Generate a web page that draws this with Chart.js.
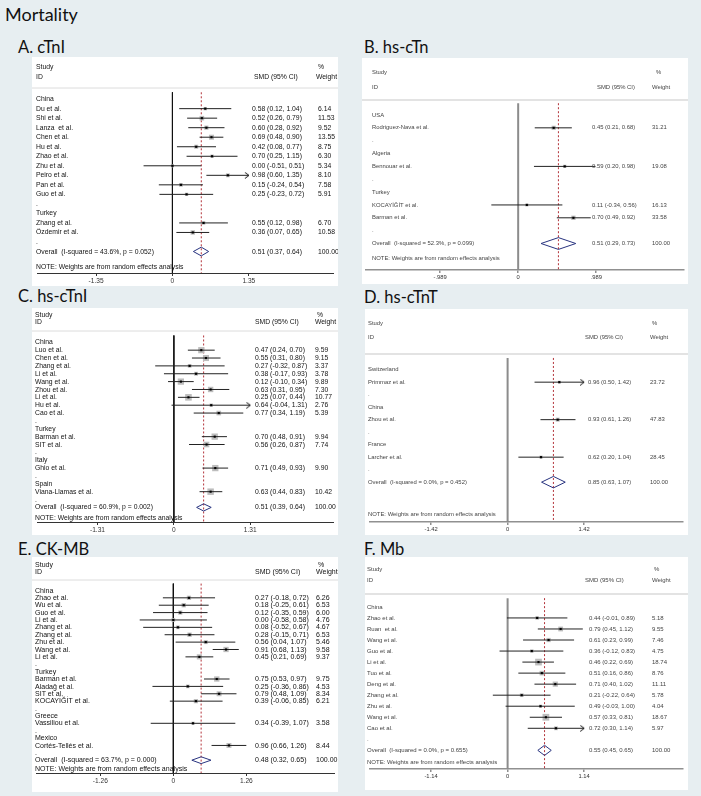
<!DOCTYPE html>
<html>
<head>
<meta charset="utf-8">
<script src="https://cdn.jsdelivr.net/npm/chart.js@4.4.1/dist/chart.umd.min.js"></script>
<style>
  html, body { margin: 0; padding: 0; }
  body { width: 701px; height: 796px; background: #e7eef1; position: relative; overflow: hidden; font-family: Lato, sans-serif; color: #111; }
  .title { position: absolute; left: 5px; top: 5px; font-size: 18px; line-height: 1; }
  .plabel { position: absolute; font-size: 16.5px; line-height: 1; }
  canvas { position: absolute; background: #fff; }
</style>
</head>
<body>
<div class="title">Mortality</div>
<div class="plabel" style="left:18px; top:39px;">A. cTnI</div>
<div class="plabel" style="left:364px; top:39px;">B. hs-cTn</div>
<div class="plabel" style="left:18px; top:288px;">C. hs-cTnI</div>
<div class="plabel" style="left:364px; top:289px;">D. hs-cTnT</div>
<div class="plabel" style="left:18px; top:541px;">E. CK-MB</div>
<div class="plabel" style="left:364px; top:541px;">F. Mb</div>
<canvas id="panel-a"></canvas>
<canvas id="panel-b"></canvas>
<canvas id="panel-c"></canvas>
<canvas id="panel-d"></canvas>
<canvas id="panel-e"></canvas>
<canvas id="panel-f"></canvas>
<script>
// ---------- A. cTnI
const aNames = ['China', 'Du et al.', 'Shi et al.', 'Lanza  et al.', 'Chen et al.', 'Hu et al.', 'Zhao et al.', 'Zhu et al.', 'Peiro et al.', 'Pan et al.', 'Guo et al.', '.', 'Turkey', 'Zhang et al.', 'Özdemir et al.', '.'];
const aEst = [null, 0.58, 0.52, 0.60, 0.69, 0.42, 0.70, 0.00, 0.98, 0.15, 0.25, null, null, 0.55, 0.36, null];
const aLow = [null, 0.12, 0.26, 0.28, 0.48, 0.08, 0.25, -0.51, 0.60, -0.24, -0.23, null, null, 0.12, 0.07, null];
const aHigh = [null, 1.04, 0.79, 0.92, 0.90, 0.77, 1.15, 0.51, 1.35, 0.54, 0.72, null, null, 0.98, 0.65, null];
const aWeight = [null, 6.14, 11.53, 9.52, 13.55, 8.75, 6.30, 5.34, 8.10, 7.58, 5.91, null, null, 6.70, 10.58, null];
const aOverall = [0.51, 0.37, 0.64];
const aHetero = ['43.6%', '0.052'];
const aTicks = [-1.35, 0, 1.35];
const aTickLabels = ['-1.35', '0', '1.35'];

// ---------- B. hs-cTn
const bNames = ['USA', 'Rodriguez-Nava et al.', '.', 'Algeria', 'Bennouar et al.', '.', 'Turkey', 'KOCAYİĞİT et al.', 'Barman et al.', '.'];
const bEst = [null, 0.45, null, null, 0.59, null, null, 0.11, 0.70, null];
const bLow = [null, 0.21, null, null, 0.20, null, null, -0.34, 0.49, null];
const bHigh = [null, 0.68, null, null, 0.98, null, null, 0.56, 0.92, null];
const bWeight = [null, 31.21, null, null, 19.08, null, null, 16.13, 33.58, null];
const bOverall = [0.51, 0.29, 0.73];
const bHetero = ['52.3%', '0.099'];
const bTicks = [-0.989, 0, 0.989];
const bTickLabels = ['-.989', '0', '.989'];

// ---------- C. hs-cTnI
const cNames = ['China', 'Luo et al.', 'Chen et al.', 'Zhang et al.', 'Li et al.', 'Wang et al.', 'Zhou et al.', 'Li et al.', 'Hu et al.', 'Cao et al.', '.', 'Turkey', 'Barman et al.', 'SIT et al.', '.', 'Italy', 'Ghio et al.', '.', 'Spain', 'Viana-Llamas et al.', '.'];
const cEst = [null, 0.47, 0.55, 0.27, 0.38, 0.12, 0.63, 0.25, 0.64, 0.77, null, null, 0.70, 0.56, null, null, 0.71, null, null, 0.63, null];
const cLow = [null, 0.24, 0.31, -0.32, -0.17, -0.10, 0.31, 0.07, -0.04, 0.34, null, null, 0.48, 0.26, null, null, 0.49, null, null, 0.44, null];
const cHigh = [null, 0.70, 0.80, 0.87, 0.93, 0.34, 0.95, 0.44, 1.31, 1.19, null, null, 0.91, 0.87, null, null, 0.93, null, null, 0.83, null];
const cWeight = [null, 9.59, 9.15, 3.37, 3.78, 9.89, 7.30, 10.77, 2.76, 5.39, null, null, 9.94, 7.74, null, null, 9.90, null, null, 10.42, null];
const cOverall = [0.51, 0.39, 0.64];
const cHetero = ['60.9%', '0.002'];
const cTicks = [-1.31, 0, 1.31];
const cTickLabels = ['-1.31', '0', '1.31'];

// ---------- D. hs-cTnT
const dNames = ['Switzerland', 'Primmaz et al.', '.', 'China', 'Zhou et al.', '.', 'France', 'Larcher et al.', '.'];
const dEst = [null, 0.96, null, null, 0.93, null, null, 0.62, null];
const dLow = [null, 0.50, null, null, 0.61, null, null, 0.20, null];
const dHigh = [null, 1.42, null, null, 1.26, null, null, 1.04, null];
const dWeight = [null, 23.72, null, null, 47.83, null, null, 28.45, null];
const dOverall = [0.85, 0.63, 1.07];
const dHetero = ['0.0%', '0.452'];
const dTicks = [-1.42, 0, 1.42];
const dTickLabels = ['-1.42', '0', '1.42'];

// ---------- E. CK-MB
const eNames = ['China', 'Zhao et al.', 'Wu et al.', 'Guo et al.', 'Li et al.', 'Zhang et al.', 'Zhang et al.', 'Zhu et al.', 'Wang et al.', 'Li et al.', '.', 'Turkey', 'Barman et al.', 'Aladağ et al.', 'SIT et al.', 'KOCAYİĞİT et al.', '.', 'Greece', 'Vassiliou et al.', '.', 'Mexico', 'Cortés-Tellés et al.', '.'];
const eEst = [null, 0.27, 0.18, 0.12, 0.00, 0.08, 0.28, 0.56, 0.91, 0.45, null, null, 0.75, 0.25, 0.79, 0.39, null, null, 0.34, null, null, 0.96, null];
const eLow = [null, -0.18, -0.25, -0.35, -0.58, -0.52, -0.15, 0.04, 0.68, 0.21, null, null, 0.53, -0.36, 0.48, -0.06, null, null, -0.39, null, null, 0.66, null];
const eHigh = [null, 0.72, 0.61, 0.59, 0.58, 0.67, 0.71, 1.07, 1.13, 0.69, null, null, 0.97, 0.86, 1.09, 0.85, null, null, 1.07, null, null, 1.26, null];
const eWeight = [null, 6.26, 6.53, 6.00, 4.76, 4.67, 6.53, 5.46, 9.58, 9.37, null, null, 9.75, 4.53, 8.34, 6.21, null, null, 3.58, null, null, 8.44, null];
const eOverall = [0.48, 0.32, 0.65];
const eHetero = ['63.7%', '0.000'];
const eTicks = [-1.26, 0, 1.26];
const eTickLabels = ['-1.26', '0', '1.26'];

// ---------- F. Mb
const fNames = ['China', 'Zhao et al.', 'Ruan  et al.', 'Wang et al.', 'Guo et al.', 'Li et al.', 'Tuo et al.', 'Deng et al.', 'Zhang et al.', 'Zhu et al.', 'Wang et al.', 'Cao et al.', '.'];
const fEst = [null, 0.44, 0.79, 0.61, 0.36, 0.46, 0.51, 0.71, 0.21, 0.49, 0.57, 0.72, null];
const fLow = [null, -0.01, 0.45, 0.23, -0.12, 0.22, 0.16, 0.40, -0.22, -0.03, 0.33, 0.30, null];
const fHigh = [null, 0.89, 1.12, 0.99, 0.83, 0.69, 0.86, 1.02, 0.64, 1.00, 0.81, 1.14, null];
const fWeight = [null, 5.18, 9.55, 7.46, 4.75, 18.74, 8.76, 11.11, 5.78, 4.04, 18.67, 5.97, null];
const fOverall = [0.55, 0.45, 0.65];
const fHetero = ['0.0%', '0.655'];
const fTicks = [-1.14, 0, 1.14];
const fTickLabels = ['-1.14', '0', '1.14'];

// panel layouts (page pixels)
const bold = { font: 7.4, sx: 0.92, tickFont: 6.6, text: '#111', axis: '#333', axisW: 1, zero: '#111', zeroW: 1, sep: '#dcdcdc', sepW: 1 };
const light = { font: 5.9, sx: 1, tickFont: 5.8, text: '#444', axis: '#909090', axisW: 1.5, zero: '#8c8c8c', zeroW: 2, sep: '#e3e3e3', sepW: 2 };

const layA = { ...bold, x: 32, y: 57, w: 306, h: 229, zeroX: 172, ppu: 58.5, firstRowY: 95, rowStep: 9.75, axisY: 273, studyY: 67, idY: 77, sepY: 88, noteY: 267, nameX: 36, smdX: 252, smdHeadX: 254, wtX: 318, wtHeadX: 316, pctX: 318, boxK: 1.36, clipAt: 1.35 };
const layB = { ...light, x: 362, y: 58, w: 326, h: 226, zeroX: 518, ppu: 80.9, firstRowY: 112, rowStep: 13.1, axisY: 270, studyY: 72, idY: 87, sepY: 100, noteY: 258, nameX: 372, smdX: 592, smdHeadX: 597, wtX: 652, wtHeadX: 652, pctX: 656, boxK: 0.75, clipAt: 0.989 };
const layC = { ...bold, x: 32, y: 308, w: 306, h: 227, zeroX: 173.5, ppu: 60.3, firstRowY: 338, rowStep: 8.05, axisY: 522, studyY: 315, idY: 322, sepY: 331, noteY: 518, nameX: 35, smdX: 255, smdHeadX: 255, wtX: 315, wtHeadX: 315, pctX: 317, boxK: 2.0, clipAt: 1.31 };
const layD = { ...light, x: 365, y: 309, w: 323, h: 226, zeroX: 507, ppu: 55.6, firstRowY: 366, rowStep: 12.8, axisY: 522, studyY: 323, idY: 337, sepY: 354, noteY: 514, nameX: 368, smdX: 588, smdHeadX: 585, wtX: 650, wtHeadX: 650, pctX: 652, boxK: 0.58, clipAt: 1.42 };
const layE = { ...bold, font: 7.8, sx: 0.9, x: 32, y: 557, w: 306, h: 235, zeroX: 173, ppu: 59.5, firstRowY: 587, rowStep: 7.52, axisY: 773, studyY: 565, idY: 572, sepY: 580, noteY: 769, nameX: 35, smdX: 255, smdHeadX: 255, wtX: 316, wtHeadX: 316, pctX: 318, boxK: 1.7, clipAt: 1.4 };
const layF = { ...light, font: 6.0, x: 365, y: 557, w: 323, h: 233, zeroX: 507, ppu: 69.3, firstRowY: 603, rowStep: 11.3, axisY: 769, studyY: 569, idY: 580, sepY: 594, noteY: 762, nameX: 367, smdX: 589, smdHeadX: 585, wtX: 652, wtHeadX: 652, pctX: 654, boxK: 1.55, clipAt: 1.14 };

const FONT = '"Liberation Sans", Arial, sans-serif';

function chevron(size, color) {
  const c = document.createElement('canvas');
  c.width = size * 2;
  c.height = size + 1;
  const g = c.getContext('2d');
  g.strokeStyle = color;
  g.lineWidth = 1;
  g.beginPath();
  g.moveTo(size * 0.35, 0.5);
  g.lineTo(size, size / 2 + 0.5);
  g.lineTo(size * 0.35, size + 0.5);
  g.stroke();
  return c;
}

const fmt = (v) => v.toFixed(2);

function forestPanel(id, d, lay) {
  const canvas = document.getElementById(id);
  canvas.width = lay.w;
  canvas.height = lay.h;
  canvas.style.left = lay.x + 'px';
  canvas.style.top = lay.y + 'px';

  const row = (py) => (py - lay.firstRowY) / lay.rowStep;
  const overallRow = d.names.length;
  const top = row(lay.sepY);
  const bottom = row(lay.axisY);

  const ci = [], boxes = [], dots = [], arrows = [];
  d.est.forEach((e, i) => {
    if (e === null) return;
    const clipped = d.high[i] >= lay.clipAt;
    ci.push({ x: d.low[i], y: i }, { x: clipped ? lay.clipAt : d.high[i], y: i }, { x: NaN, y: NaN });
    boxes.push({ x: e, y: i, w: d.weight[i] });
    dots.push({ x: e, y: i });
    if (clipped) arrows.push({ x: lay.clipAt, y: i });
  });

  const [oe, ol, oh] = d.overall;
  const dh = 0.46;
  const diamond = [
    { x: ol, y: overallRow }, { x: oe, y: overallRow - dh },
    { x: oh, y: overallRow }, { x: oe, y: overallRow + dh }, { x: ol, y: overallRow },
  ];

  const textPlugin = {
    id: 'forestText',
    beforeDatasetsDraw(chart) {
      const ctx = chart.ctx;
      ctx.save();
      ctx.strokeStyle = lay.sep;
      ctx.lineWidth = lay.sepW;
      ctx.beginPath();
      ctx.moveTo(0, lay.sepY - lay.y);
      ctx.lineTo(lay.w, lay.sepY - lay.y);
      ctx.stroke();
      ctx.restore();
    },
    afterDatasetsDraw(chart) {
      const ctx = chart.ctx;
      const ys = chart.scales.y;
      ctx.save();
      ctx.scale(lay.sx, 1);
      ctx.font = `${lay.font}px ${FONT}`;
      ctx.fillStyle = lay.text;
      ctx.textBaseline = 'middle';
      const put = (t, px, cy) => ctx.fillText(t, (px - lay.x) / lay.sx, cy);
      const pageY = (py) => py - lay.y;
      put('Study', lay.nameX, pageY(lay.studyY));
      put('ID', lay.nameX, pageY(lay.idY));
      put('SMD (95% CI)', lay.smdHeadX, pageY(lay.idY));
      put('%', lay.pctX, pageY(lay.studyY));
      put('Weight', lay.wtHeadX, pageY(lay.idY));
      d.names.forEach((n, i) => {
        const y = ys.getPixelForValue(i);
        put(n, lay.nameX, y);
        if (d.est[i] !== null) {
          put(`${fmt(d.est[i])} (${fmt(d.low[i])}, ${fmt(d.high[i])})`, lay.smdX, y);
          put(fmt(d.weight[i]), lay.wtX, y);
        }
      });
      const yo = ys.getPixelForValue(overallRow);
      put(`Overall  (I-squared = ${d.hetero[0]}, p = ${d.hetero[1]})`, lay.nameX, yo);
      put(`${fmt(oe)} (${fmt(ol)}, ${fmt(oh)})`, lay.smdX, yo);
      put('100.00', lay.wtX, yo);
      put('NOTE: Weights are from random effects analysis', lay.nameX, pageY(lay.noteY));
      ctx.restore();
    },
  };

  return new Chart(canvas, {
    type: 'scatter',
    data: {
      datasets: [
        { data: dots, pointStyle: 'rect', pointRadius: 1.5, backgroundColor: '#000', borderWidth: 0, order: 0 },
        { data: arrows, pointStyle: chevron(6, '#111'), order: 0 },
        { type: 'line', data: ci, borderColor: '#222', borderWidth: 1, pointRadius: 0, spanGaps: false, order: 1 },
        { type: 'line', data: diamond, borderColor: '#28337f', borderWidth: 1, pointRadius: 0, order: 1 },
        {
          data: boxes, pointStyle: 'rect', backgroundColor: '#bdbdbd', borderWidth: 0, order: 2,
          pointRadius: (c) => (c.raw ? (lay.boxK * Math.sqrt(c.raw.w)) / 1.414 : 0),
        },
        { type: 'line', data: [{ x: oe, y: top }, { x: oe, y: bottom }], borderColor: '#b3333a', borderWidth: 1, borderDash: [2, 2], pointRadius: 0, order: 3 },
        { type: 'line', data: [{ x: 0, y: top }, { x: 0, y: bottom }], borderColor: lay.zero, borderWidth: lay.zeroW, pointRadius: 0, order: 3 },
      ],
    },
    options: {
      responsive: false,
      animation: false,
      devicePixelRatio: 1,
      events: [],
      layout: { padding: 0 },
      plugins: { legend: { display: false }, tooltip: { enabled: false } },
      scales: {
        x: {
          type: 'linear',
          bounds: 'data',
          min: (lay.x - lay.zeroX) / lay.ppu,
          max: (lay.x + lay.w - lay.zeroX) / lay.ppu,
          afterBuildTicks: (s) => { s.ticks = d.ticks.map((v) => ({ value: v })); },
          afterFit: (s) => { s.height = lay.y + lay.h - lay.axisY; },
          ticks: {
            autoSkip: false, maxRotation: 0, padding: 1, color: '#333',
            font: { family: FONT, size: lay.tickFont },
            callback: (v, i) => d.tickLabels[i],
          },
          grid: { drawOnChartArea: false, drawTicks: true, tickLength: 3, color: lay.axis, lineWidth: lay.axisW },
          border: { display: true, color: lay.axis, width: lay.axisW },
        },
        y: { type: 'linear', display: false, reverse: true, min: row(lay.y), max: bottom },
      },
    },
    plugins: [textPlugin],
  });
}

forestPanel('panel-a', { names: aNames, est: aEst, low: aLow, high: aHigh, weight: aWeight, overall: aOverall, hetero: aHetero, ticks: aTicks, tickLabels: aTickLabels }, layA);
forestPanel('panel-b', { names: bNames, est: bEst, low: bLow, high: bHigh, weight: bWeight, overall: bOverall, hetero: bHetero, ticks: bTicks, tickLabels: bTickLabels }, layB);
forestPanel('panel-c', { names: cNames, est: cEst, low: cLow, high: cHigh, weight: cWeight, overall: cOverall, hetero: cHetero, ticks: cTicks, tickLabels: cTickLabels }, layC);
forestPanel('panel-d', { names: dNames, est: dEst, low: dLow, high: dHigh, weight: dWeight, overall: dOverall, hetero: dHetero, ticks: dTicks, tickLabels: dTickLabels }, layD);
forestPanel('panel-e', { names: eNames, est: eEst, low: eLow, high: eHigh, weight: eWeight, overall: eOverall, hetero: eHetero, ticks: eTicks, tickLabels: eTickLabels }, layE);
forestPanel('panel-f', { names: fNames, est: fEst, low: fLow, high: fHigh, weight: fWeight, overall: fOverall, hetero: fHetero, ticks: fTicks, tickLabels: fTickLabels }, layF);
</script>
</body>
</html>
